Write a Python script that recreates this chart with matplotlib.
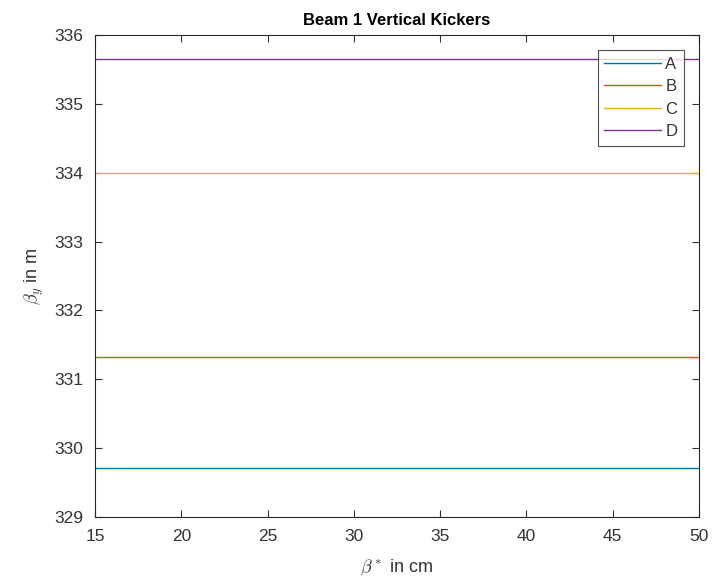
import matplotlib.pyplot as plt

plt.rcParams['font.family'] = ['Liberation Sans', 'DejaVu Sans']
plt.rcParams['mathtext.fontset'] = 'cm'

# beta* scan points (cm) and vertical beta at each kicker (m)
beta_star = [15, 20, 25, 30, 35, 40, 45, 50]
kick_a = [329.71] * 8
kick_b = [331.32] * 8
kick_c = [333.99] * 8
kick_d = [335.65] * 8
labels = ["A", "B", "C", "D"]
colors = ["#0072BD", "#D95319", "#EDB120", "#7E2F8E"]

fig = plt.figure(figsize=(7.21, 5.79), dpi=100)
ax = fig.add_axes([95 / 721, 1 - 517 / 579, 604 / 721, 482 / 579])

for ys, lab, c in zip([kick_a, kick_b, kick_c, kick_d], labels, colors):
    ax.plot(beta_star, ys, color=c, lw=1.0, label=lab)

ax.set_xlim(15, 50)
ax.set_ylim(329, 336)
ax.set_xticks(range(15, 51, 5))
ax.set_yticks(range(329, 337))

tick_col = "#333333"
ax.tick_params(direction="in", top=True, right=True, length=5, width=0.8,
               labelsize=12.5, colors=tick_col)
ax.tick_params(axis="x", pad=8.5)
ax.tick_params(axis="y", pad=8.5)
for s in ax.spines.values():
    s.set_color("#262626")
    s.set_linewidth(0.8)

ax.set_title("Beam 1 Vertical Kickers", fontsize=12, fontweight="bold", pad=7)
ax.set_xlabel(r"$\beta^*$ in cm", fontsize=13, color=tick_col, labelpad=10)
ax.set_ylabel(r"$\beta_y$ in m", fontsize=13, color=tick_col, labelpad=6)

leg = ax.legend(loc="upper right", bbox_to_anchor=(0.975, 0.969), fontsize=12,
                frameon=True, fancybox=False, edgecolor="#262626",
                handlelength=3.4, handletextpad=0.25, borderpad=0.4,
                labelspacing=0.45, borderaxespad=0)
leg.get_frame().set_linewidth(0.8)
for t in leg.get_texts():
    t.set_color(tick_col)

fig.savefig("out.png", dpi=100)
